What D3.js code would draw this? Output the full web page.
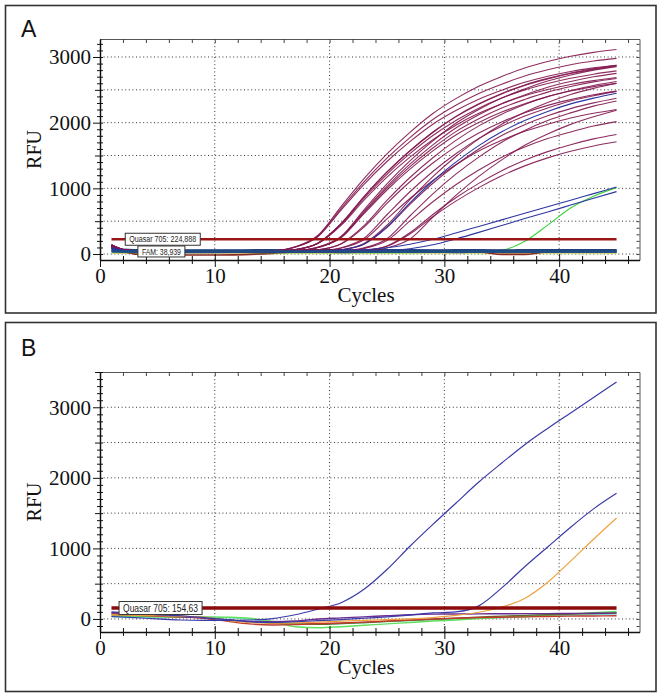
<!DOCTYPE html>
<html><head><meta charset="utf-8">
<script src="https://cdn.jsdelivr.net/npm/d3@7"></script>
<style>body{margin:0;background:#fff}svg{display:block}</style>
</head><body>
<svg id="c" width="662" height="698"></svg>
<script>
// ---------------- DATA ----------------
const cyclesA = [1, 2, 4, 10, 15, 17, 19, 21, 23, 25, 27, 29, 31, 33, 35, 37, 39, 41, 43, 45];
const magentaA = [
  [130,65,40,32, 49,110,286,722,1149,1526,1853,2140,2366,2555,2703,2833,2932,3012,3071,3114],
  [110,55,38,30, 48,107,275,692,1100,1460,1773,2048,2264,2444,2586,2710,2805,2882,2938,2979],
  [95,50,36,30, 39,67,168,463,875,1250,1574,1858,2096,2288,2445,2574,2674,2757,2821,2872],
  [140,70,42,34, 47,104,267,668,1062,1409,1712,1977,2185,2358,2495,2615,2706,2780,2834,2874],
  [120,60,40,30, 39,67,167,461,872,1246,1569,1851,2088,2280,2437,2565,2665,2748,2811,2862],
  [130,65,40,32, 30,47,105,268,673,1069,1419,1723,1990,2200,2375,2513,2633,2725,2800,2854],
  [110,55,38,30, 38,66,163,450,850,1214,1528,1804,2034,2221,2374,2499,2596,2677,2738,2788],
  [95,50,36,30, 30,47,102,259,649,1031,1368,1661,1918,2120,2289,2422,2538,2626,2698,2751],
  [140,70,42,34, 38,65,159,435,821,1172,1475,1740,1962,2142,2289,2410,2504,2581,2640,2689],
  [120,60,40,30, 30,46,100,253,631,1002,1330,1614,1864,2060,2224,2353,2465,2551,2621,2672],
  [130,65,40,32, 30,38,65,158,432,816,1165,1466,1730,1951,2130,2277,2397,2490,2567,2626],
  [110,55,38,30, 30,46,98,247,615,975,1293,1570,1813,2003,2162,2288,2397,2481,2549,2598],
  [95,50,36,30, 30,30,45,96,240,598,948,1257,1526,1761,1946,2101,2223,2329,2410,2476],
  [140,70,42,34, 30,38,63,151,410,772,1101,1386,1635,1843,2012,2150,2263,2351,2424,2480],
  [120,60,40,30, 30,30,37,62,148,401,756,1078,1356,1599,1804,1968,2104,2214,2301,2372],
  [130,65,40,32, 30,30,44,89,217,534,845,1119,1358,1567,1731,1868,1976,2071,2143,2201],
  [110,55,38,30, 30,30,30,43,85,206,504,796,1054,1278,1475,1629,1758,1859,1948,2016],
  [95,50,36,30, 30,30,30,36,55,123,323,602,856,1076,1268,1429,1559,1665,1753,1821],
  [140,70,42,34, 30,30,30,35,54,117,305,567,805,1011,1191,1342,1464,1564,1646,1710],
  [120,60,40,30, 30,30,30,30,44,92,228,563,892,1182,1434,1656,1829,1974,2089,2189],
  [130,65,40,32, 30,30,30,45,94,233,579,917,1216,1476,1703,1882,2032,2149,2252,2331],
  [110,55,38,30, 30,30,38,65,160,438,827,1180,1485,1753,1977,2158,2306,2428,2522,2600]
];
const blueSigA  = [100,55,38,30, 30,30,38,63,152,414,779,1112,1399,1651,1861,2032,2171,2286,2374,2448];
const blueLinA1 = [90,55,40,35, 35,36,40,50,65,95,150,225,320,420,520,620,720,820,920,1020];
const blueLinA2 = [80,50,40,35, 35,35,35,36,38,50,80,140,230,330,435,540,640,745,850,950];
const greenA    = [40,25,22,24, 22,22,22,22,22,22,22,24,30,45,60,195,440,700,880,1010];
const baseBlueA1 = [75,55,50,50, 48,48,50,50,50,52,50,50,50,52,50,50,52,50,52,52];
const baseBlueA2 = [110,70,60,58, 60,58,60,60,58,60,60,58,60,60,58,60,60,60,62,62];
const baseBlueA3 = [60,35,30,28, 30,30,30,28,30,30,30,30,28,30,30,30,30,30,30,30];
const baseYellowA = [10,8,6,5, 5,5,5,5,5,5,5,5,5,5,5,5,5,5,5,5];
const baseBrownA = [120,40,-12,-15, 10,30,30,30,30,30,30,30,30,30,-6,-6,30,30,30,30];
const thresholdsA = [{name:"Quasar 705", value:224.888, label:"Quasar 705: 224,888"},
                     {name:"FAM", value:38.939, label:"FAM: 38,939"}];

const cyclesB = [1,3,5,7,9,11,13,15,17,19,21,23,25,27,29,31,33,35,37,39,41,43,45];
const blue1B  = [35,20,0,-15,-20,-20,-15,5,60,140,230,420,700,1030,1340,1640,1940,2210,2470,2700,2920,3140,3360];
const blue2B  = [100,80,60,45,20,-10,-40,-50,-40,-25,-10,10,30,55,85,100,185,440,740,1020,1300,1560,1780];
const orangeB = [60,50,45,40,25,-20,-50,-60,-55,-45,-32,-20,-10,0,20,50,95,170,290,520,820,1130,1430];
const redB    = [80,60,40,30,10,-30,-70,-85,-80,-65,-57,-45,-30,-15,0,10,20,25,30,35,40,42,45];
const greenB  = [40,35,30,25,30,25,10,-40,-110,-125,-110,-90,-70,-50,-30,-15,5,20,35,50,70,90,105];
const oliveB  = [60,50,40,35,20,-10,-40,-60,-70,-75,-65,-50,-35,-20,-5,10,25,40,50,60,70,78,85];
const purpleB = [90,70,50,35,15,-15,-35,-40,-30,0,15,30,45,60,68,70,72,74,75,76,78,80,82];
const cyanB   = [30,25,25,25,25,20,0,-30,-60,-70,-65,-55,-40,-25,-10,0,10,20,30,40,50,60,70];
const thresholdsB = [{name:"Quasar 705", value:154.63, label:"Quasar 705: 154,63"}];

const xTickLabels = [0,10,20,30,40];
const yTickLabels = [0,1000,2000,3000];

// ---------------- DRAW ----------------
const svg = d3.select("#c");
const serif = "'Liberation Serif','Times New Roman',serif";
const sans = "'Liberation Sans',Arial,sans-serif";

svg.append("rect").attr("x",5.5).attr("y",5.5).attr("width",650.5).attr("height",307.5)
  .attr("fill","none").attr("stroke","#333").attr("stroke-width",1.6);
svg.append("rect").attr("x",5.5).attr("y",322.5).attr("width",650.5).attr("height",369)
  .attr("fill","none").attr("stroke","#333").attr("stroke-width",1.6);

function panel(cfg){
  const x = d3.scaleLinear().domain([0,47]).range([100,639.5]);
  const y = d3.scaleLinear().domain(cfg.yDomain).range([cfg.bottom, cfg.top]);
  const g = svg.append("g");
  const left = x(0), right = x(47);

  g.append("text").attr("x",21).attr("y",cfg.letterY).text(cfg.letter)
    .style("font-family",sans).attr("font-size",23).attr("fill","#111");

  const gridY = d3.range(0, cfg.yDomain[1]+1, 500).filter(v => y(v) > cfg.top+1);
  g.append("g").selectAll("line").data(gridY).join("line")
    .attr("x1",left).attr("x2",right).attr("y1",d=>y(d)).attr("y2",d=>y(d))
    .attr("stroke","#333").attr("stroke-width",1).attr("stroke-dasharray","1,2.6");
  g.append("g").selectAll("line").data([10,20,30,40]).join("line")
    .attr("x1",d=>x(d)).attr("x2",d=>x(d)).attr("y1",cfg.top).attr("y2",cfg.bottom)
    .attr("stroke","#333").attr("stroke-width",1).attr("stroke-dasharray","1,2.6");

  const yMinor = d3.range(Math.ceil(cfg.yDomain[0]/100)*100, cfg.yDomain[1]+1, 100);
  const xMinor = d3.range(0, 47, 2);

  const top = g.append("g").attr("transform",`translate(0,${cfg.top})`)
    .call(d3.axisTop(x).tickValues(xMinor).tickSize(-4).tickSizeOuter(0).tickFormat(""));
  top.select(".domain").attr("stroke","#555");
  top.selectAll(".tick line").attr("stroke","#444");
  const rt = g.append("g").attr("transform",`translate(${right},0)`)
    .call(d3.axisRight(y).tickValues(yMinor).tickSize(-3).tickSizeOuter(0).tickFormat(""));
  rt.select(".domain").attr("stroke","#555");
  rt.selectAll(".tick line").attr("stroke","#444");

  const cid = "clip"+cfg.letter;
  svg.append("clipPath").attr("id",cid).append("rect")
    .attr("x",left).attr("y",cfg.top).attr("width",right-left).attr("height",cfg.bottom-cfg.top);
  const plot = g.append("g").attr("clip-path",`url(#${cid})`);

  const line = d3.line().x(d=>x(d[0])).y(d=>y(d[1])).curve(d3.curveMonotoneX);
  cfg.series.forEach(s => {
    plot.append("path").datum(cfg.cycles.map((c,i)=>[c,s.values[i]]))
      .attr("d",line).attr("fill","none").attr("stroke",s.color)
      .attr("stroke-width",s.width||1.1).attr("stroke-opacity",s.opacity||1)
      .attr("stroke-linejoin","round");
  });

  cfg.thresholds.forEach(t => {
    plot.append("line").attr("x1",x(1)).attr("x2",x(45)).attr("y1",y(t.value)).attr("y2",y(t.value))
      .attr("stroke",t.color).attr("stroke-width",t.width);
  });

  const la = g.append("g").attr("transform",`translate(${left},0)`)
    .call(d3.axisLeft(y).tickValues(yMinor).tickSize(4).tickPadding(5).tickSizeOuter(0)
      .tickFormat(d => yTickLabels.includes(d) ? d : ""))
    .attr("font-family",serif).attr("font-size",21);
  la.select(".domain").attr("stroke","#111").attr("stroke-width",1.5);
  la.selectAll(".tick line").attr("stroke","#111").attr("x1",3)
    .attr("x2", d => d%1000===0 ? -7 : (d%500===0 ? -5 : -3));
  la.selectAll(".tick text").style("font-family",serif).style("font-size","21px").attr("fill","#111");

  const ba = g.append("g").attr("transform",`translate(0,${cfg.bottom})`)
    .call(d3.axisBottom(x).tickValues(xMinor).tickSize(4).tickPadding(4).tickSizeOuter(0)
      .tickFormat(d => xTickLabels.includes(d) ? d : ""))
    .attr("font-family",serif).attr("font-size",21);
  ba.select(".domain").attr("stroke","#111").attr("stroke-width",1.5);
  ba.selectAll(".tick line").attr("stroke","#111")
    .attr("y1", d => d%10===0 ? -6 : -4).attr("y2", d => d%10===0 ? 7 : 4);
  ba.selectAll(".tick text").style("font-family",serif).style("font-size","21px").attr("fill","#111");

  g.append("text").attr("x",366).attr("y",cfg.bottom+42).attr("text-anchor","middle")
    .style("font-family",serif).attr("font-size",21).attr("fill","#111").text("Cycles");
  g.append("text").attr("transform",`translate(41,${(cfg.top+cfg.bottom)/2}) rotate(-90)`)
    .attr("text-anchor","middle").style("font-family",serif).attr("font-size",20).attr("fill","#111").text("RFU");

  cfg.thresholds.forEach(t => {
    const yy = y(t.value);
    const bx = x(t.labelCycle);
    g.append("rect").attr("x",bx).attr("y",yy-t.boxH/2).attr("width",t.boxW).attr("height",t.boxH)
      .attr("fill","#fff").attr("stroke","#333").attr("stroke-width",1);
    g.append("text").attr("x",bx+t.boxW/2).attr("y",yy+t.fs*0.36).attr("text-anchor","middle")
      .style("font-family",sans).attr("font-size",t.fs).attr("fill","#222")
      .attr("textLength",t.boxW-8).attr("lengthAdjust","spacingAndGlyphs").text(t.label);
  });
}

const seriesA = [];
seriesA.push({values:baseYellowA, color:"#d6cf6a", width:1});
seriesA.push({values:baseBrownA, color:"#8a2a22", width:1.6});
seriesA.push({values:greenA, color:"#3ed63e", width:1.2});
seriesA.push({values:baseBlueA3, color:"#2a5a8c", width:2});
seriesA.push({values:baseBlueA1, color:"#1f4a85", width:2.2});
seriesA.push({values:baseBlueA2, color:"#24407a", width:2});
magentaA.forEach(v => seriesA.push({values:v, color:"#82164f", width:1.1, opacity:0.9}));
seriesA.push({values:blueSigA, color:"#2d35a0", width:1.1});
seriesA.push({values:blueLinA1, color:"#2d35a0", width:1.1});
seriesA.push({values:blueLinA2, color:"#2d35a0", width:1.1});

panel({
  letter:"A", letterY:37, top:39, bottom:260, yDomain:[-91,3274],
  cycles:cyclesA, series:seriesA,
  thresholds:[
    Object.assign({}, thresholdsA[0], {color:"#9a1616", width:2.6, labelCycle:2.2, boxW:75, boxH:12, fs:8.5}),
    Object.assign({}, thresholdsA[1], {color:"#1e4d85", width:2.6, labelCycle:3.3, boxW:47, boxH:11, fs:8.5})
  ]
});

const seriesB = [
  {values:cyanB, color:"#74d6cc", width:1.2},
  {values:greenB, color:"#5fe05f", width:1.4},
  {values:oliveB, color:"#5a6b2a", width:1.4},
  {values:redB, color:"#c0392b", width:1.4},
  {values:purpleB, color:"#6a2c91", width:1.4},
  {values:orangeB, color:"#f0a040", width:1.2},
  {values:blue2B, color:"#3a3aa8", width:1.2},
  {values:blue1B, color:"#3a3aa8", width:1.2}
];
panel({
  letter:"B", letterY:356, top:372, bottom:632, yDomain:[-185,3500],
  cycles:cyclesB, series:seriesB,
  thresholds:[
    Object.assign({}, thresholdsB[0], {color:"#8b0a0a", width:3.4, labelCycle:1.66, boxW:83, boxH:13, fs:11})
  ]
});
</script>
</body></html>
